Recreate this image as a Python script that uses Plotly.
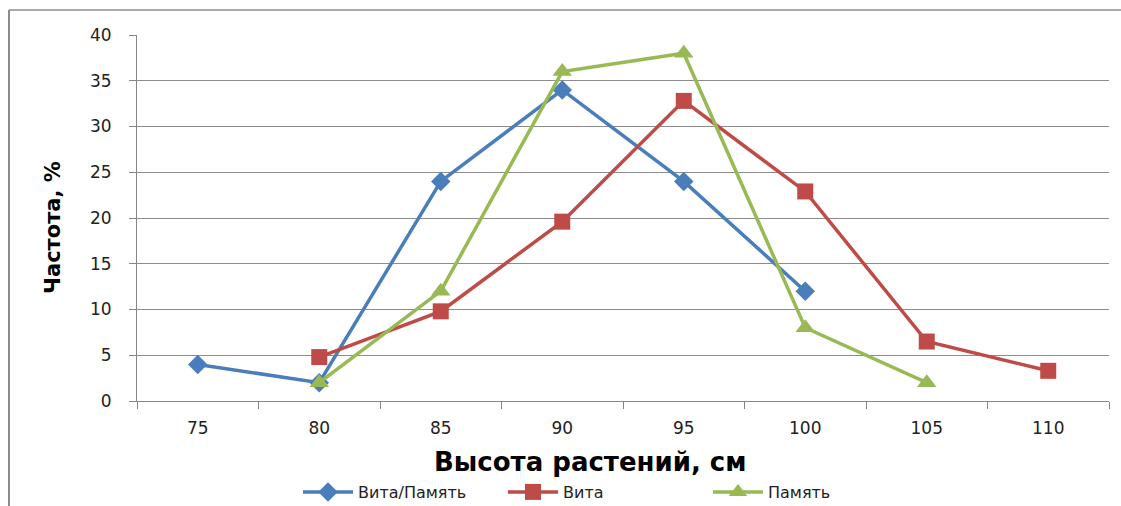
import plotly.graph_objects as go

categories = ["75", "80", "85", "90", "95", "100", "105", "110"]
vita_pamyat = [4, 2, 24, 34, 24, 12, None, None]
vita = [None, 4.8, 9.8, 19.6, 32.8, 22.9, 6.5, 3.3]
pamyat = [None, 2, 12, 36, 38, 8, 2, None]

L, R, T, B = 137, 12, 35, 105
W, H = 1121, 506
pw, ph = W - L - R, H - T - B


def px_x(x):
    return (x - L) / pw


def px_y(y):
    return (H - B - y) / ph


fig = go.Figure()
fig.add_trace(go.Scatter(x=categories, y=vita_pamyat, name="Вита/Память", mode="lines+markers",
                         line=dict(color="#4a7ebb", width=3.5),
                         marker=dict(symbol="diamond", size=15, color="#4a7ebb")))
fig.add_trace(go.Scatter(x=categories, y=vita, name="Вита", mode="lines+markers",
                         line=dict(color="#be4b48", width=3.5),
                         marker=dict(symbol="square", size=16, color="#be4b48")))
fig.add_trace(go.Scatter(x=categories, y=pamyat, name="Память", mode="lines+markers",
                         line=dict(color="#98b954", width=3.5),
                         marker=dict(symbol="triangle-up", size=17, color="#98b954")))

font = "DejaVu Sans, Arial, sans-serif"
fig.update_layout(
    width=W, height=H,
    margin=dict(l=L, r=R, t=T, b=B, autoexpand=False),
    paper_bgcolor="white", plot_bgcolor="white",
    font=dict(family=font, color="#000000"),
    showlegend=True,
    legend=dict(orientation="h", x=px_x(298), xanchor="left",
                y=px_y(492), yanchor="middle",
                font=dict(size=16, family=font, color="#222222"), itemwidth=50,
                entrywidth=140, entrywidthmode="pixels"),
    xaxis=dict(type="category", categoryorder="array", categoryarray=categories,
               range=[-0.5, 7.5], tickson="boundaries", ticks="outside", ticklen=7,
               tickcolor="#868686", showline=True, linecolor="#868686", linewidth=1,
               showgrid=False, tickfont=dict(size=17, family=font, color="#222222"),
               ticklabelstandoff=12),
    yaxis=dict(range=[0, 40], dtick=5, ticks="outside", ticklen=7, tickcolor="#868686",
               showline=True, linecolor="#868686", linewidth=1,
               showgrid=True, gridcolor="#8c8c8c", gridwidth=1,
               zeroline=False, tickfont=dict(size=17, family=font, color="#222222"),
               ticklabelstandoff=14),
    annotations=[
        dict(text="<b>Высота растений, см</b>", xref="paper", yref="paper",
             x=px_x(590), y=px_y(462), xanchor="center", yanchor="middle",
             showarrow=False, font=dict(size=26, family=font, color="#000000")),
        dict(text="<b>Частота, %</b>", xref="paper", yref="paper", textangle=-90,
             x=px_x(53), y=px_y(228), xanchor="center", yanchor="middle",
             showarrow=False, font=dict(size=21, family=font, color="#000000")),
    ],
    shapes=[
        dict(type="line", xref="paper", yref="paper",
             x0=px_x(9), x1=px_x(W), y0=px_y(10), y1=px_y(10),
             line=dict(color="#8c8c8c", width=1.5)),
        dict(type="line", xref="paper", yref="paper",
             x0=px_x(9), x1=px_x(9), y0=px_y(10), y1=px_y(510),
             line=dict(color="#8c8c8c", width=2)),
    ],
)

fig.write_html("out.html")
